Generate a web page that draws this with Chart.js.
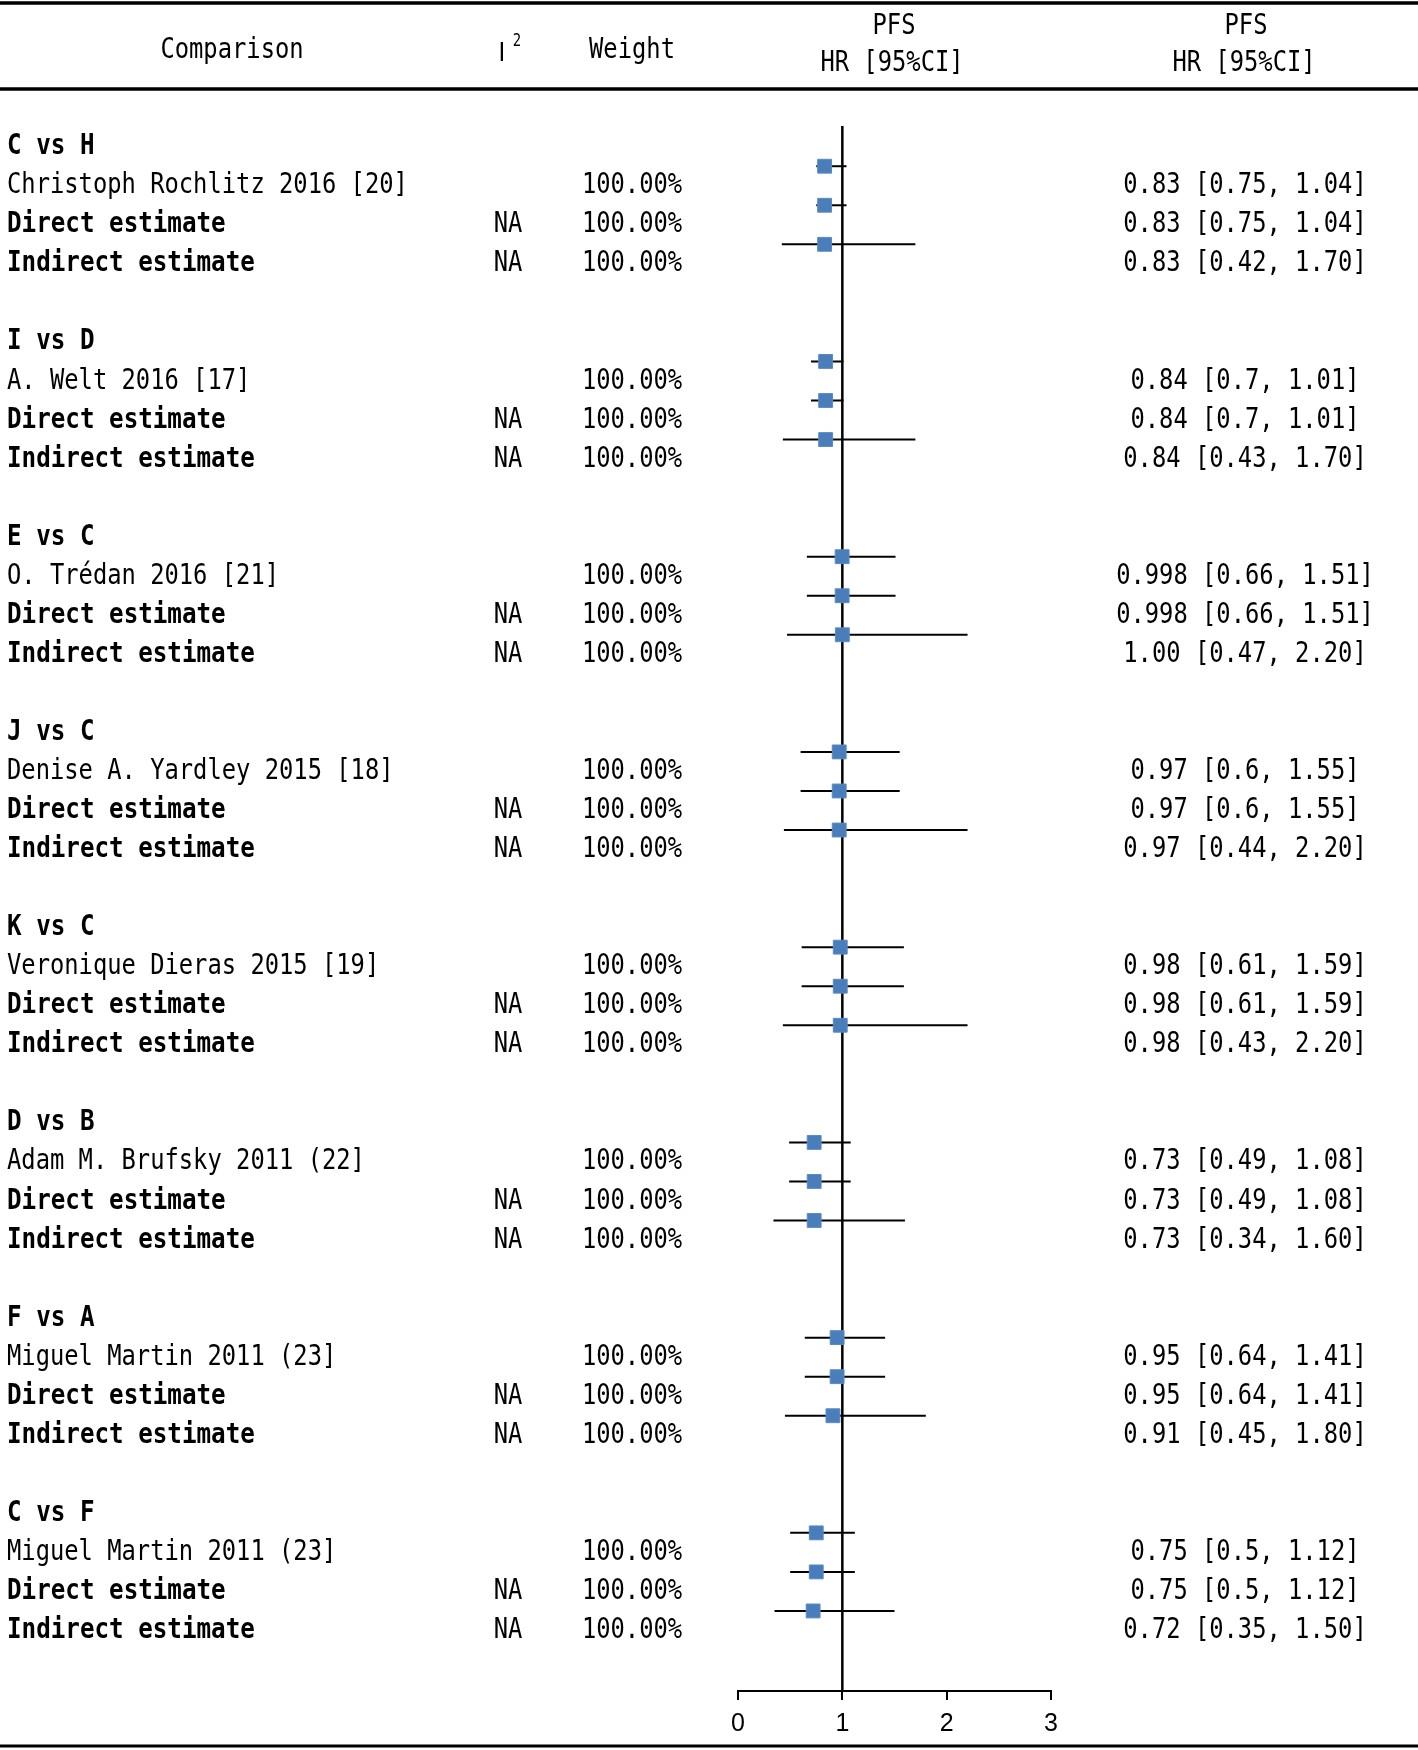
<!DOCTYPE html>
<html>
<head>
<meta charset="utf-8">
<title>PFS forest plot</title>
<script src="https://cdn.jsdelivr.net/npm/chart.js@4.4.1/dist/chart.umd.min.js"></script>
<style>
  html, body { margin: 0; padding: 0; background: #fff; }
  #wrap { width: 1418px; height: 1750px; position: relative; }
</style>
</head>
<body>
<div id="wrap"><canvas id="forest" width="1418" height="1750"></canvas></div>
<script>
// ======================
// data
// ======================
const comparisons = ['C vs H', 'I vs D', 'E vs C', 'J vs C', 'K vs C', 'D vs B', 'F vs A', 'C vs F'];
const studies = ['Christoph Rochlitz 2016 [20]', 'A. Welt 2016 [17]', 'O. Trédan 2016 [21]',
                 'Denise A. Yardley 2015 [18]', 'Veronique Dieras 2015 [19]', 'Adam M. Brufsky 2011 (22]',
                 'Miguel Martin 2011 (23]', 'Miguel Martin 2011 (23]'];

// single study == direct estimate
const directHR = [0.83, 0.84, 0.998, 0.97, 0.98, 0.73, 0.95, 0.75];
const directLo = [0.75, 0.7, 0.66, 0.6, 0.61, 0.49, 0.64, 0.5];
const directHi = [1.04, 1.01, 1.51, 1.55, 1.59, 1.08, 1.41, 1.12];

const indirectHR = [0.83, 0.84, 1.00, 0.97, 0.98, 0.73, 0.91, 0.72];
const indirectLo = [0.42, 0.43, 0.47, 0.44, 0.43, 0.34, 0.45, 0.35];
const indirectHi = [1.70, 1.70, 2.20, 2.20, 2.20, 1.60, 1.80, 1.50];

const directText = ['0.83 [0.75, 1.04]', '0.84 [0.7, 1.01]', '0.998 [0.66, 1.51]', '0.97 [0.6, 1.55]',
                    '0.98 [0.61, 1.59]', '0.73 [0.49, 1.08]', '0.95 [0.64, 1.41]', '0.75 [0.5, 1.12]'];
const indirectText = ['0.83 [0.42, 1.70]', '0.84 [0.43, 1.70]', '1.00 [0.47, 2.20]', '0.97 [0.44, 2.20]',
                      '0.98 [0.43, 2.20]', '0.73 [0.34, 1.60]', '0.91 [0.45, 1.80]', '0.72 [0.35, 1.50]'];

const weightText = '100.00%';
const i2Text = 'NA';
const xTicks = [0, 1, 2, 3];

// ======================
// rows: each comparison = header, study, direct, indirect, blank
// ======================
const ROWS_PER_GROUP = 5;
const rows = [];
comparisons.forEach((c, g) => {
    const base = g * ROWS_PER_GROUP;
    rows.push({ r: base, label: c, bold: true });
    rows.push({ r: base + 1, label: studies[g], i2: '', w: weightText, hr: directHR[g], lo: directLo[g], hi: directHi[g], txt: directText[g] });
    rows.push({ r: base + 2, label: 'Direct estimate', bold: true, i2: i2Text, w: weightText, hr: directHR[g], lo: directLo[g], hi: directHi[g], txt: directText[g] });
    rows.push({ r: base + 3, label: 'Indirect estimate', bold: true, i2: i2Text, w: weightText, hr: indirectHR[g], lo: indirectLo[g], hi: indirectHi[g], txt: indirectText[g] });
});
const estRows = rows.filter(d => d.hr !== undefined);

// ======================
// text helpers (SimHei-like narrow mono)
// ======================
const FONT = '"DejaVu Sans Mono", "Liberation Mono", monospace';
const SIZE = 29;
function txt(ctx, s, x, y, align, bold, size, sx, family) {
    size = size || SIZE;
    ctx.save();
    ctx.font = (bold ? 'bold ' : '') + size + 'px ' + (family || FONT);
    ctx.fillStyle = '#000';
    ctx.translate(x, y + size * 0.729 / 2);
    ctx.scale(sx || (bold ? 0.835 : 0.82), 1);
    ctx.textAlign = align;
    ctx.textBaseline = 'alphabetic';
    ctx.fillText(s, 0, 0);
    ctx.restore();
}

const TEXT_OFFSET = 16.5;   // table text sits a bit below its marker

const tablePlugin = {
    id: 'tablePlugin',
    afterDraw(chart) {
        const ctx = chart.ctx;
        const y = chart.scales.y;
        const W = chart.width;

        // rules
        ctx.save();
        ctx.strokeStyle = '#000';
        ctx.lineWidth = 3.5;
        [3, 89].forEach(yy => {
            ctx.beginPath(); ctx.moveTo(0, yy); ctx.lineTo(W, yy); ctx.stroke();
        });
        ctx.lineWidth = 3;
        ctx.beginPath(); ctx.moveTo(0, 1746); ctx.lineTo(W, 1746); ctx.stroke();
        ctx.restore();

        // header
        txt(ctx, 'Comparison', 232, 47, 'center');
        txt(ctx, 'I', 502, 51, 'center', false, 27, 0.9, '"Liberation Sans", Arial, sans-serif');
        txt(ctx, '2', 517, 40, 'center', false, 17);
        txt(ctx, 'Weight', 632, 47, 'center');
        txt(ctx, 'PFS', 894, 23, 'center');
        txt(ctx, 'HR [95%CI]', 892, 60, 'center');
        txt(ctx, 'PFS', 1246, 23, 'center');
        txt(ctx, 'HR [95%CI]', 1244, 60, 'center');

        // body
        rows.forEach(d => {
            const py = y.getPixelForValue(d.r) + TEXT_OFFSET;
            txt(ctx, d.label, 7, py, 'left', d.bold);
            if (d.i2) txt(ctx, d.i2, 508, py, 'center');
            if (d.w) txt(ctx, d.w, 632, py, 'center');
            if (d.txt) txt(ctx, d.txt, 1245, py, 'center');
        });
    }
};

// ======================
// datasets
// ======================
const ciSets = estRows.map(d => ({
    type: 'line',
    'data': [{ x: d.lo, y: d.r }, { x: d.hi, y: d.r }],
    borderColor: '#000',
    borderWidth: 2,
    pointRadius: 0,
    showLine: true,
    order: 2
}));

const refLine = {
    type: 'line',
    'data': [{ x: 1, y: -0.03 }, { x: 1, y: 40.05 }],
    borderColor: '#000',
    borderWidth: 2.5,
    pointRadius: 0,
    showLine: true,
    order: 3
};

const markers = {
    type: 'scatter',
    'data': estRows.map(d => ({ x: d.hr, y: d.r })),
    pointStyle: 'rect',
    pointRadius: 9.8,
    backgroundColor: '#4A7EBB',
    borderColor: '#5A8AC4',
    borderWidth: 1,
    order: 0
};

const chartConfig = {
    type: 'scatter',
    plugins: [tablePlugin],
    options: {
        responsive: false,
        animation: false,
        layout: { padding: { left: 738, right: 367, top: 126, bottom: 19 } },
        plugins: { legend: { display: false }, tooltip: { enabled: false } },
        scales: {
            x: {
                type: 'linear',
                min: 0,
                max: 3,
                afterBuildTicks: s => { s.ticks = xTicks.map(v => ({ value: v })); },
                afterFit: s => { s.height = 40; },
                ticks: {
                    color: '#000',
                    padding: 9,
                    font: { size: 25, family: '"Liberation Sans", Arial, sans-serif' }
                },
                grid: { drawOnChartArea: false, tickLength: 9, color: '#000', lineWidth: 2 },
                border: { display: true, color: '#000', width: 2 }
            },
            y: {
                type: 'linear',
                display: false,
                reverse: true,
                min: -0.03,
                max: 40.05
            }
        }
    }
};
chartConfig['data'] = { datasets: [markers, refLine, ...ciSets] };

new Chart(document.getElementById('forest'), chartConfig);
</script>
</body>
</html>
